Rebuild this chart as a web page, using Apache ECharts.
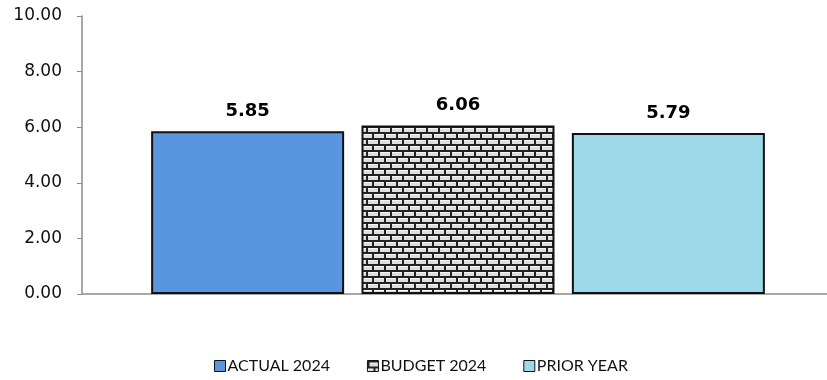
<!DOCTYPE html>
<html>
<head>
<meta charset="utf-8">
<script src="https://cdn.jsdelivr.net/npm/echarts@6/dist/echarts.min.js"></script>
<style>
  html, body { margin: 0; padding: 0; background: #fff; overflow: hidden; }
  #chart { width: 834px; height: 380px; }
</style>
</head>
<body>
<div id="chart"></div>
<script>
// Chart data
const categories = [''];
const seriesNames = ['ACTUAL 2024', 'BUDGET 2024', 'PRIOR YEAR'];
const actual2024 = [5.85];
const budget2024 = [6.06];
const priorYear = [5.79];
const yTicks = { min: 0, max: 10, interval: 2 };

// Brick fill drawn on a small tile canvas and repeated across the bar
function brickTile() {
  const c = document.createElement('canvas');
  const w = 24, h = 12;
  c.width = w; c.height = h;
  const g = c.getContext('2d');
  g.fillStyle = '#dedede';
  g.fillRect(0, 0, w, h);
  // highlights on each brick row
  g.fillStyle = '#f6f6f6';
  g.fillRect(0, 2, w, 1);
  g.fillRect(0, 8, w, 1);
  g.fillStyle = '#222';
  // mortar rows
  g.fillRect(0, 0, w, 2);
  g.fillRect(0, 6, w, 2);
  // vertical joints, staggered by half a brick
  g.fillRect(0, 0, 2, 6);
  g.fillRect(12, 0, 2, 6);
  g.fillRect(6, 6, 2, 6);
  g.fillRect(18, 6, 2, 6);
  return c;
}

const axisFont = '"DejaVu Sans", Verdana, sans-serif';
const legendFont = 'Lato, "Open Sans", sans-serif';
const chart = echarts.init(document.getElementById('chart'));

function barSeries(name, data, color) {
  return {
    name: name,
    type: 'bar',
    data: data,
    barWidth: 193,
    barGap: '9%',
    itemStyle: { color: color, borderColor: '#111', borderWidth: 2 },
    label: {
      show: true,
      position: 'top',
      distance: 11,
      formatter: p => p.value.toFixed(2),
      fontFamily: axisFont,
      fontWeight: 'bold',
      fontSize: 18,
      color: '#000'
    }
  };
}

chart.setOption({
  animation: false,
  backgroundColor: '#fff',
  grid: { left: 82, right: 0, top: 16, bottom: 86 },
  legend: {
    bottom: 1,
    left: 209,
    itemWidth: 11,
    itemHeight: 11,
    itemGap: 37,
    icon: 'rect',
    textStyle: { fontFamily: legendFont, fontSize: 16, color: '#111', padding: [0, 0, 0, -3] },
    itemStyle: { borderColor: '#111', borderWidth: 1 },
    data: seriesNames
  },
  xAxis: {
    type: 'category',
    data: categories,
    axisLine: { lineStyle: { color: '#8c8c8c', width: 1.5 } },
    axisTick: { show: false },
    axisLabel: { show: false }
  },
  yAxis: {
    type: 'value',
    min: yTicks.min,
    max: yTicks.max,
    interval: yTicks.interval,
    axisLine: { show: true, lineStyle: { color: '#8c8c8c', width: 1.5 } },
    axisTick: { show: true, length: 5, lineStyle: { color: '#8c8c8c' } },
    splitLine: { show: false },
    axisLabel: {
      formatter: v => v.toFixed(2),
      fontFamily: axisFont,
      fontSize: 17,
      color: '#111',
      margin: 20
    }
  },
  series: [
    barSeries(seriesNames[0], actual2024, '#5a96df'),
    barSeries(seriesNames[1], budget2024, { image: brickTile(), repeat: 'repeat' }),
    barSeries(seriesNames[2], priorYear, '#9ed9ea')
  ]
});
</script>
</body>
</html>
